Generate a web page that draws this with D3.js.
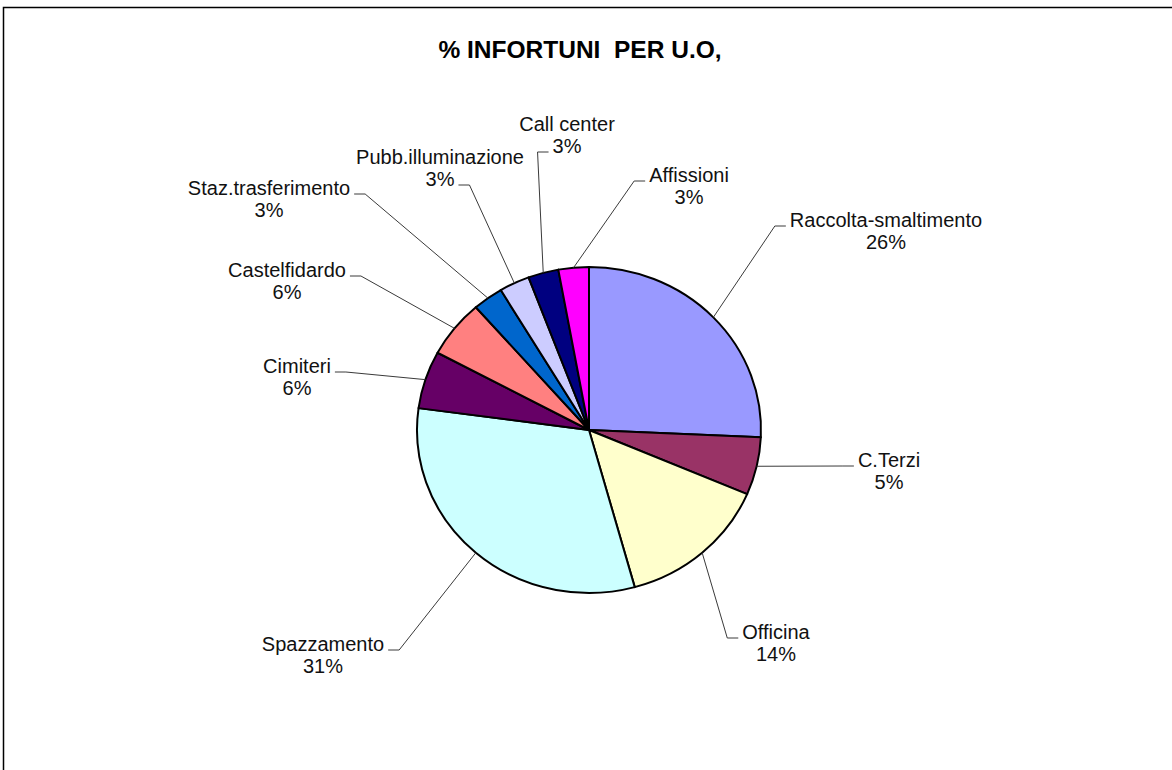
<!DOCTYPE html>
<html>
<head>
<meta charset="utf-8">
<script src="https://cdn.jsdelivr.net/npm/d3@7"></script>
<style>
  body { margin: 0; background: #fff; }
  text { font-family: "Liberation Sans", Arial, sans-serif; }
</style>
</head>
<body>
<svg id="chart"></svg>
<script>
var width = 1172,
    height = 770;

// data (clockwise from 12 o'clock)
var categories = ['Raccolta-smaltimento', 'C.Terzi', 'Officina', 'Spazzamento', 'Cimiteri',
                  'Castelfidardo', 'Staz.trasferimento', 'Pubb.illuminazione', 'Call center', 'Affissioni'];
var values = [9, 2, 5, 11, 2, 2, 1, 1, 1, 1];            // infortuni
var pctLabels = ['26%', '5%', '14%', '31%', '6%', '6%', '3%', '3%', '3%', '3%'];
var colors = ['#9999FF', '#993366', '#FFFFCC', '#CCFFFF', '#660066',
              '#FF8080', '#0066CC', '#CCCCFF', '#000080', '#FF00FF'];

// label placement (offset from pie centre, side of the text vs leader, line the leader hooks to)
var labelLayout = [
  [297, -203, 'right', 0],
  [300, 37, 'right', 0],
  [187, 209, 'right', 0],
  [-266, 221, 'left', 0],
  [-292, -57, 'left', 0],
  [-302, -153, 'left', 0],
  [-320, -235, 'left', 0],
  [-149, -266, 'left', 1],
  [-22, -299, 'right', 1],
  [100, -248, 'right', 0]
];

var cx = 589, cy = 430,
    rx = 172, ry = 163,      // excel pie is a bit squashed
    ky = ry / rx,
    lineH = 22;

var svg = d3.select('#chart')
            .attr('width', width)
            .attr('height', height);

// chart area frame
svg.append('path')
   .attr('d', 'M3.5,' + (height + 5) + 'V7.5H' + (width + 5))
   .attr('fill', 'none')
   .attr('stroke', '#000')
   .attr('stroke-width', 1.5);

svg.append('text')
   .attr('x', 580)
   .attr('y', 58)
   .attr('text-anchor', 'middle')
   .style('font-size', '24.5px')
   .style('font-weight', 'bold')
   .style('white-space', 'pre')
   .text('% INFORTUNI  PER U.O,');

var pie = d3.pie().sort(null);
var arc = d3.arc()
            .innerRadius(0)
            .outerRadius(rx);

var arcsData = pie(values);

var pieG = svg.append('g')
              .attr('transform', 'translate(' + cx + ',' + cy + ') scale(1,' + ky + ')');

pieG.selectAll('.slice')
    .data(arcsData)
    .enter()
    .append('path')
    .classed('slice', true)
    .attr('d', arc)
    .attr('fill', (d, i) => colors[i])
    .attr('stroke', '#000')
    .attr('stroke-width', 2)
    .attr('stroke-linejoin', 'round')
    .attr('vector-effect', 'non-scaling-stroke');

var labelG = svg.append('g')
                .attr('transform', 'translate(' + cx + ',' + cy + ')');

arcsData.forEach(function(d, i) {
  var lay = labelLayout[i];
  var g = labelG.append('g');

  var t1 = g.append('text')
            .attr('x', lay[0])
            .attr('y', lay[1])
            .attr('text-anchor', 'middle')
            .style('font-size', '20px')
            .attr('fill', '#111')
            .text(categories[i]);
  var t2 = g.append('text')
            .attr('x', lay[0])
            .attr('y', lay[1] + lineH)
            .attr('text-anchor', 'middle')
            .style('font-size', '20px')
            .attr('fill', '#111')
            .text(pctLabels[i]);

  var hooked = lay[3] === 0 ? t1 : t2;
  var w = hooked.node().getComputedTextLength();
  var hy = lay[1] + lay[3] * lineH - 1;
  var hookEnd, elbow;
  if (lay[2] === 'right') {
    hookEnd = lay[0] - w / 2 - 4;
    elbow = hookEnd - 11;
  } else {
    hookEnd = lay[0] + w / 2 + 4;
    elbow = hookEnd + 11;
  }

  // leader starts on the pie edge at the slice mid angle
  var a = (d.startAngle + d.endAngle) / 2;
  var sx = rx * Math.sin(a),
      sy = -rx * Math.cos(a) * ky;

  g.append('polyline')
   .attr('points', [[sx, sy], [elbow, hy], [hookEnd, hy]].map(p => p.join(',')).join(' '))
   .attr('fill', 'none')
   .attr('stroke', '#3a3a3a')
   .attr('stroke-width', 1);
});
</script>
</body>
</html>
